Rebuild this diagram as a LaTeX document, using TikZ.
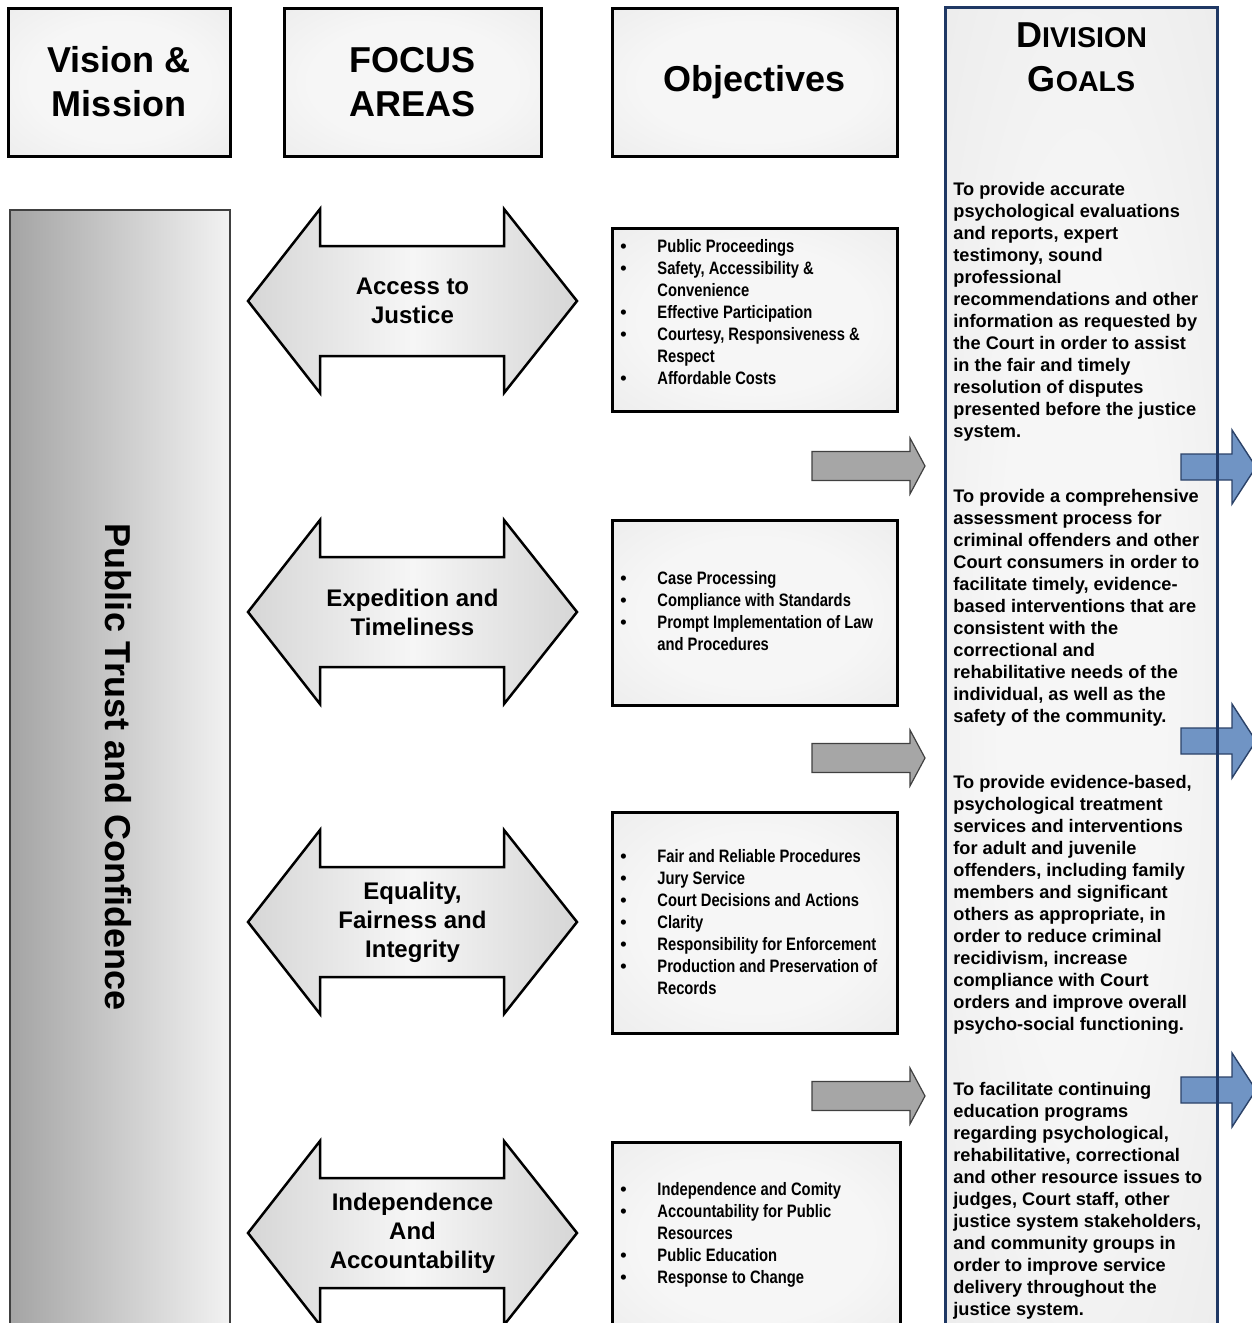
\documentclass[tikz,border=0pt]{standalone}
\usepackage{fontspec}
\setmainfont{Liberation Sans}
\newfontfamily\narrowfont[FakeStretch=0.82]{Liberation Sans}
\definecolor{navy}{HTML}{1F3864}
\definecolor{boxedge}{HTML}{D9D9D9}
\definecolor{boxmid}{HTML}{F6F6F6}
\definecolor{arrowedge}{HTML}{D6D6D6}
\definecolor{columnedge}{HTML}{DCDCDC}
\definecolor{barleft}{HTML}{A4A4A4}
\definecolor{barright}{HTML}{F2F2F2}
\definecolor{flowgray}{HTML}{A6A6A6}
\definecolor{flowblue}{HTML}{7094C4}
\definecolor{flowblueedge}{HTML}{2B4268}

% soft glow: light centre fading out to the corners
\pgfdeclareradialshading{softglow}{\pgfpoint{0bp}{0bp}}
  {color(0bp)=(boxmid); color(20bp)=(boxmid); color(72bp)=(boxedge)}
\pgfdeclareradialshading{columnglow}{\pgfpoint{0bp}{0bp}}
  {color(0bp)=(boxmid); color(15bp)=(boxmid); color(72bp)=(columnedge)}

% bullet item / continuation line inside an objectives box
\newcommand\itm[1]{\makebox[18.5pt][l]{\rmfamily\textbullet}#1}
\newcommand\cnt[1]{\hspace*{18.5pt}#1}

\begin{document}
\begin{tikzpicture}[x=0.5pt,y=-0.5pt,
  headbox/.style={draw=black, line width=1.5pt, shading=softglow,
    align=center, font=\fontsize{18}{22}\selectfont\bfseries},
  objbox/.style={draw=black, line width=1.5pt, shading=softglow},
  objtext/.style={anchor=north west, inner sep=0pt, align=left,
    font=\narrowfont\fontsize{9}{11}\selectfont\bfseries},
  goaltext/.style={anchor=north west, inner sep=0pt, align=left,
    font=\fontsize{9.1}{11}\selectfont\bfseries},
  focusshape/.style={draw=black, line width=1.25pt, line join=miter,
    left color=arrowedge, right color=arrowedge, middle color=boxmid},
  focustext/.style={align=center, font=\fontsize{12}{14.5}\selectfont\bfseries},
  grayflow/.style={fill=flowgray, draw=black!75, line width=0.6pt},
  blueflow/.style={fill=flowblue, draw=flowblueedge, line width=0.7pt},
]
\useasboundingbox (0,0) rectangle (1252,1323);
\clip (0,0) rectangle (1252,1323);

% ---- column headings
\node[headbox, minimum width=111pt, minimum height=74pt] (vision) at (119,82) {Vision \&\\Mission};
\node[headbox, minimum width=128.5pt, minimum height=74pt] (focus) at (412.5,82) {FOCUS\\AREAS};
\node[headbox, minimum width=142.5pt, minimum height=74pt] (objectives) at (754.5,82) {Objectives};

% ---- division goals column (fill first, border drawn last)
\node[shading=columnglow, minimum width=135.5pt, minimum height=666pt, inner sep=0pt]
  (goals) at (1081.5,674) {};
\node[align=center, inner sep=0pt, font=\fontsize{18}{22}\selectfont\bfseries] (goalshead) at (1081.5,57)
  {D{\fontsize{14.3}{22}\selectfont IVISION}\\
   G{\fontsize{14.3}{22}\selectfont OALS}};

% ---- vision bar
\node[draw=black!75, line width=0.75pt, left color=barleft, right color=barright,
      minimum width=110pt, minimum height=565pt, inner sep=0pt] (trust) at (120,775) {};
\node[rotate=-90, font=\fontsize{18}{22}\selectfont\bfseries] (trusttext) at (118,767)
  {Public Trust and Confidence};

% ---- focus area double arrows
\newcommand\focusarrow[3]{%
  \path[focusshape] (248,#2) -- (320,#2-92) -- (320,#2-55) -- (504,#2-55) -- (504,#2-92)
    -- (577,#2) -- (504,#2+92) -- (504,#2+55) -- (320,#2+55) -- (320,#2+92) -- cycle;
  \node[focustext] (#1) at (412.5,#2) {#3};}
\focusarrow{access}{301}{Access to\\Justice}
\focusarrow{expedition}{612}{Expedition and\\Timeliness}
\focusarrow{equality}{922}{Equality,\\Fairness and\\Integrity}
\focusarrow{independence}{1233}{Independence\\And\\Accountability}

% ---- objectives boxes
\node[objbox, minimum width=142.5pt, minimum height=91.5pt] (ob1) at (754.5,319.5) {};
\node[objbox, minimum width=142.5pt, minimum height=92.5pt] (ob2) at (754.5,612.5) {};
\node[objbox, minimum width=142.5pt, minimum height=110.5pt] (ob3) at (754.5,922.5) {};
\node[objbox, minimum width=144pt, minimum height=99pt] (ob4) at (756,1241) {};

\node[objtext] (ob1t) at (620,237) {\strut\itm{Public Proceedings}\\
  \itm{Safety, Accessibility \&}\\ \cnt{Convenience}\\
  \itm{Effective Participation}\\
  \itm{Courtesy, Responsiveness \&}\\ \cnt{Respect}\\
  \itm{Affordable Costs}};
\node[objtext] (ob2t) at (620,569) {\strut\itm{Case Processing}\\
  \itm{Compliance with Standards}\\
  \itm{Prompt Implementation of Law}\\ \cnt{and Procedures}};
\node[objtext] (ob3t) at (620,847) {\strut\itm{Fair and Reliable Procedures}\\
  \itm{Jury Service}\\
  \itm{Court Decisions and Actions}\\
  \itm{Clarity}\\
  \itm{Responsibility for Enforcement}\\
  \itm{Production and Preservation of}\\ \cnt{Records}};
\node[objtext] (ob4t) at (620,1180) {\strut\itm{Independence and Comity}\\
  \itm{Accountability for Public}\\ \cnt{Resources}\\
  \itm{Public Education}\\
  \itm{Response to Change}};

% ---- gray arrows towards the goals
\newcommand\grayarrow[2]{%
  \path[grayflow] (812,#2-14.5) -- (910,#2-14.5) -- (910,#2-28) -- (925,#2)
    -- (910,#2+28) -- (910,#2+14.5) -- (812,#2+14.5) -- cycle;
  \coordinate (#1) at (868,#2);}
\grayarrow{g1}{466}
\grayarrow{g2}{758}
\grayarrow{g3}{1096}

% ---- goal statements
\node[goaltext] (goal1) at (953,180) {\strut To provide accurate\\
psychological evaluations\\ and reports, expert\\ testimony, sound\\ professional\\
recommendations and other\\ information as requested by\\ the Court in order to assist\\
in the fair and timely\\ resolution of disputes\\ presented before the justice\\ system.};
\node[goaltext] (goal2) at (953,487) {\strut To provide a comprehensive\\
assessment process for\\ criminal offenders and other\\ Court consumers in order to\\
facilitate timely, evidence-\\ based interventions that are\\ consistent with the\\
correctional and\\ rehabilitative needs of the\\ individual, as well as the\\
safety of the community.};
\node[goaltext] (goal3) at (953,773) {\strut To provide evidence-based,\\
psychological treatment\\ services and interventions\\ for adult and juvenile\\
offenders, including family\\ members and significant\\ others as appropriate, in\\
order to reduce criminal\\ recidivism, increase\\ compliance with Court\\
orders and improve overall\\ psycho-social functioning.};
\node[goaltext] (goal4) at (953,1080) {\strut To facilitate continuing\\
education programs\\ regarding psychological,\\ rehabilitative, correctional\\
and other resource issues to\\ judges, Court staff, other\\ justice system stakeholders,\\
and community groups in\\ order to improve service\\ delivery throughout the\\
justice system.};

% ---- blue arrows leaving the goals column
\newcommand\bluearrow[2]{%
  \path[blueflow] (1181,#2-13) -- (1232,#2-13) -- (1232,#2-37) -- (1256,#2)
    -- (1232,#2+37) -- (1232,#2+13) -- (1181,#2+13) -- cycle;
  \coordinate (#1) at (1210,#2);}
\bluearrow{b1}{467}
\bluearrow{b2}{741}
\bluearrow{b3}{1090}

% goals column border on top
\draw[navy, line width=1.2pt] (goals.north west) rectangle (goals.south east);
\end{tikzpicture}
\end{document}
